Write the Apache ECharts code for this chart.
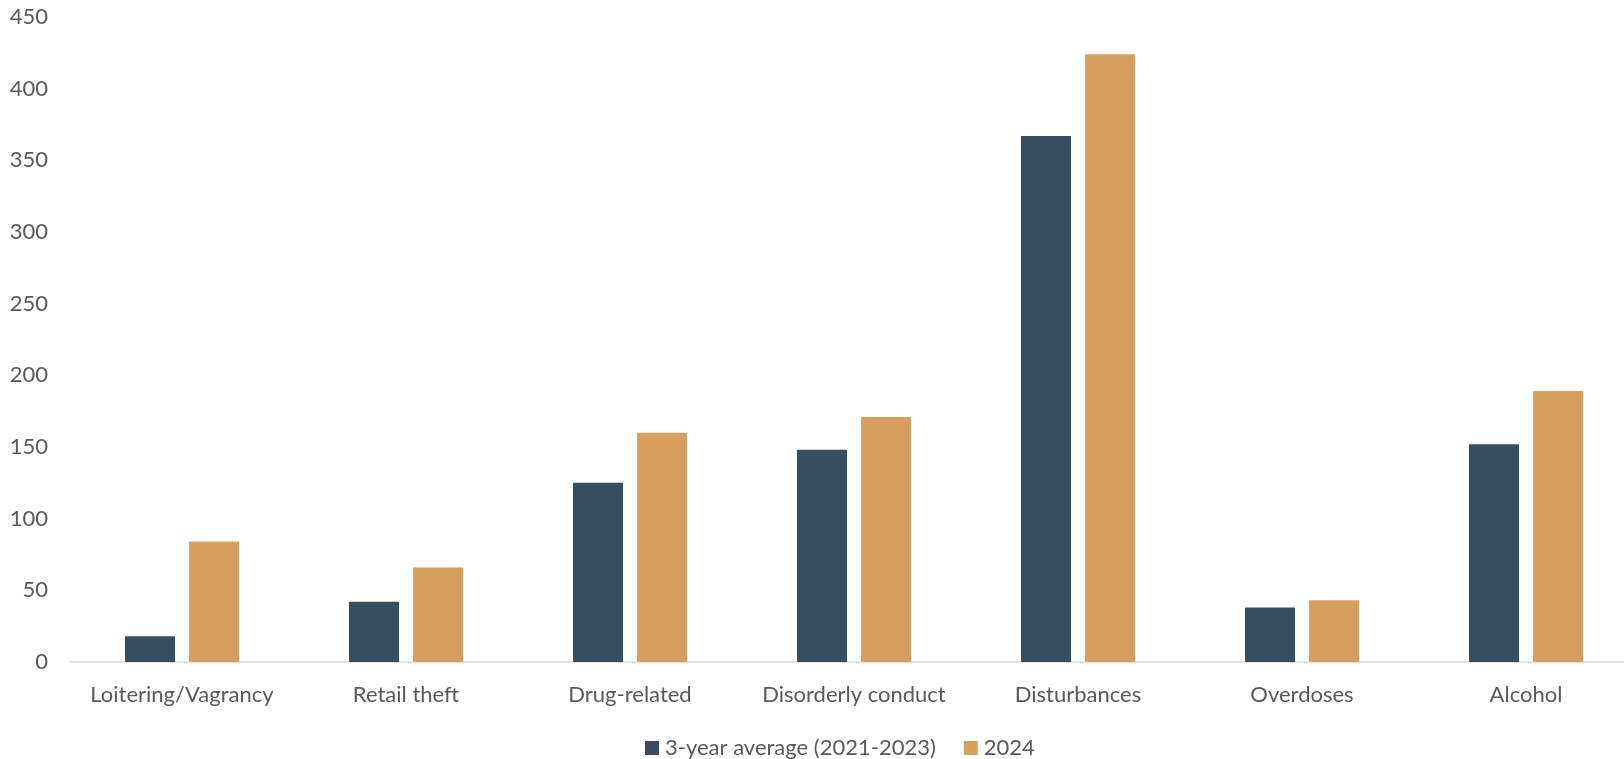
<!DOCTYPE html>
<html>
<head>
<meta charset="utf-8">
<script src="https://cdn.jsdelivr.net/npm/echarts@6/dist/echarts.min.js"></script>
<style>html,body{margin:0;padding:0;background:#fff;overflow:hidden;width:1624px;height:759px}#c{width:1638px;height:759px}</style>
</head>
<body>
<div id="c"></div>
<script>
const categories = ['Loitering/Vagrancy','Retail theft','Drug-related','Disorderly conduct','Disturbances','Overdoses','Alcohol'];
const avgValues = [18, 42, 125, 148, 367, 38, 152];
const values2024 = [84, 66, 160, 171, 424, 43, 189];
const seriesNames = ['3-year average (2021-2023)', '2024'];
const yTicks = {min: 0, max: 450, interval: 50};

const FONT = 'Lato, "Liberation Sans", sans-serif';
const chart = echarts.init(document.getElementById('c'));
chart.setOption({
  animation: false,
  backgroundColor: '#ffffff',
  textStyle: {fontFamily: FONT},
  grid: {left: 70, right: 0, top: 17, bottom: 97, containLabel: false},
  legend: {
    left: 640, top: 732,
    itemWidth: 14, itemHeight: 14, itemGap: 28,
    icon: 'rect',
    textStyle: {fontFamily: FONT, fontSize: 22, color: '#595959', padding: [0,0,0,1]},
    data: seriesNames
  },
  xAxis: {
    type: 'category',
    data: categories,
    axisLine: {lineStyle: {color: '#d9d9d9', width: 1.5}},
    axisTick: {show: false},
    axisLabel: {fontFamily: FONT, fontSize: 22, color: '#595959', margin: 22, interval: 0}
  },
  yAxis: {
    type: 'value',
    min: yTicks.min, max: yTicks.max, interval: yTicks.interval,
    axisLine: {show: false},
    axisTick: {show: false},
    splitLine: {show: false},
    axisLabel: {fontFamily: FONT, fontSize: 22, color: '#595959', margin: 22}
  },
  series: [
    {name: seriesNames[0], type: 'bar', data: avgValues, barWidth: 50, barGap: '28%',
     itemStyle: {color: '#374d61'}},
    {name: seriesNames[1], type: 'bar', data: values2024, barWidth: 50,
     itemStyle: {color: '#d7a05e'}}
  ]
});
</script>
</body>
</html>
